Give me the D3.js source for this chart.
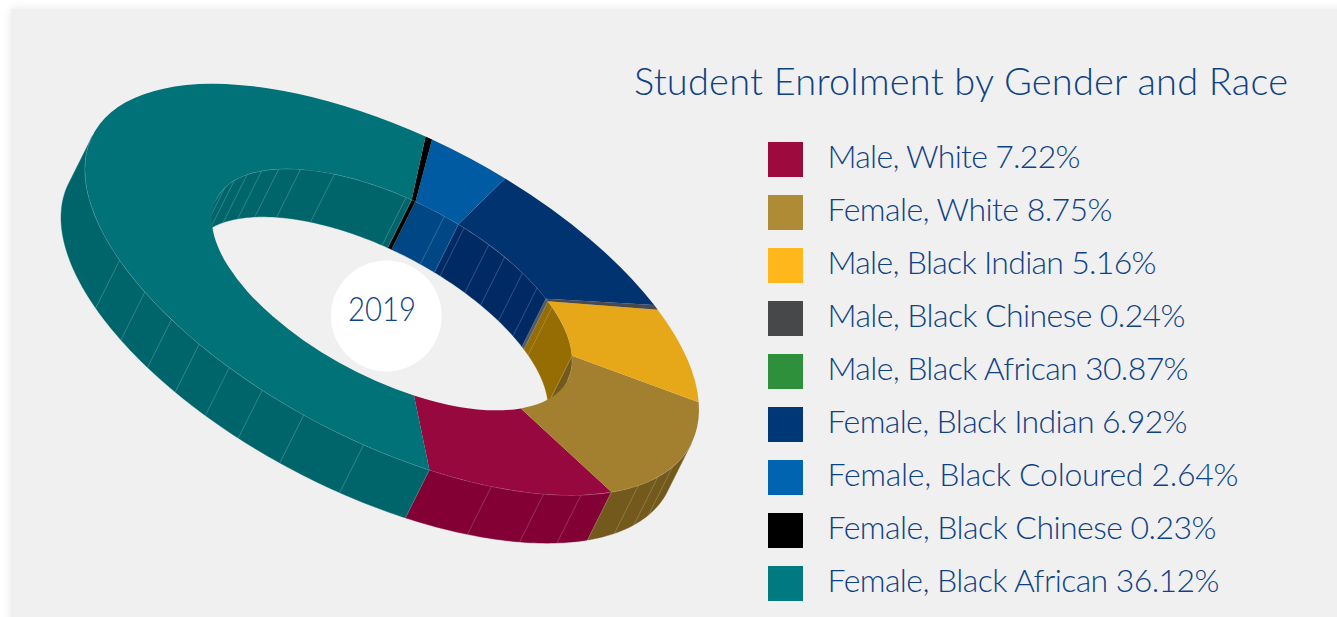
<!DOCTYPE html>
<html>
<head>
<meta charset="utf-8">
<title>Student Enrolment by Gender and Race</title>
<script src="https://cdn.jsdelivr.net/npm/d3@7/dist/d3.min.js"></script>
<style>
  html, body { margin: 0; padding: 0; background: #fff; overflow: hidden; }
  #stage { position: relative; width: 1337px; height: 617px; overflow: hidden; }
  #panel { position: absolute; left: 11px; top: 9px; width: 1400px; height: 700px;
           background: #f0f0f0; box-shadow: 0 0 9px rgba(0,0,0,.10); }
  svg { position: absolute; left: 0; top: 0; }
  text { font-family: Lato, "Open Sans", sans-serif; font-weight: 300; fill: #0e4286; }
</style>
</head>
<body>
<div id="stage"><div id="panel"></div><svg id="chart" width="1337" height="617"></svg></div>
<script>
const chartTitle = "Student Enrolment by Gender and Race";
const centreLabel = "2019";

const categories = ["Male, White", "Female, White", "Male, Black Indian", "Male, Black Chinese",
  "Male, Black African", "Female, Black Indian", "Female, Black Coloured", "Female, Black Chinese",
  "Female, Black African"];
const shares = [7.22, 8.75, 5.16, 0.24, 30.87, 6.92, 2.64, 0.23, 36.12];
const shareLabels = ["7.22%", "8.75%", "5.16%", "0.24%", "30.87%", "6.92%", "2.64%", "0.23%", "36.12%"];

// Key swatches, lit top faces and shaded walls. A null face means the group has a key entry only.
const keyColors  = ["#9d0b3e", "#b08b35", "#ffb71b", "#47484a", "#2f903c", "#003777", "#0064b0", "#000000", "#007a80"];
const faceColors = ["#96083e", "#a38030", "#e6a819", "#4a4a4c", null, "#003370", "#005ba2", "#000000", "#007278"];
const wallColors = ["#820034", "#73591c", "#966d02", "#5a5a5c", null, "#002a63", "#004785", "#000000", "#00656b"];

// Mesh seams on the walls, in degrees round the ring.
const outerSeams = [152.5, 143.6, 135.9, 128.9, 122, 115, 106.7, 95.3, 71.1, 60.4, 52, 36.6, 30, 24];
const innerSeams = [-158, -151, -143.5, -136.3, -128.9, -120.5, -108.6, -85.5, -73.1, -66.4, -57.5, -51.3, -43.6, -36.4, -27.3];

// Set widths of the key lines and title, so the lines end evenly whatever the face.
const keyTextWidths = [253, 285, 329, 358, 361, 360, 411, 389, 392];
const titleWidth = 654;
const centreLabelWidth = 68;

// Ring geometry: a unit circle sheared onto the page, then pushed along the extrusion vector.
const centre = [392, 289.5];
const shear = [307, 120, 167];
const holeRatio = 0.587;
const extrude = [-24, 48];
const firstBoundary = 83;
const arcRadius = 100;

const svg = d3.select("#chart");
const rad = d3.scaleLinear().domain([0, 360]).range([0, 2 * Math.PI]);

function project(deg, radius, depth) {
  const u = radius * Math.cos(rad(deg)), v = radius * Math.sin(rad(deg));
  return [centre[0] + shear[0] * u + extrude[0] * depth,
          centre[1] + shear[1] * u + shear[2] * v + extrude[1] * depth];
}

const ringRows = categories.map((name, i) => ({ name, value: shares[i], face: faceColors[i], wall: wallColors[i] }))
  .filter(d => d.face);

const pie = d3.pie().sort(null).value(d => d.value)
  .startAngle(rad(firstBoundary + 90)).endAngle(rad(firstBoundary + 90 - 360));
const slices = pie(ringRows).map(s => ({
  ...s,
  from: (s.endAngle * 180 / Math.PI) - 90,
  to: (s.startAngle * 180 / Math.PI) - 90
}));

// Direction of the extrusion in circle coordinates decides which walls face the viewer.
const ou = extrude[0] / shear[0];
const ov = (extrude[1] - shear[1] * ou) / shear[2];
const facing = Math.atan2(ov, ou) * 180 / Math.PI;

function visibleParts(from, to, mid) {
  const parts = [];
  for (const turn of [-720, -360, 0, 360, 720]) {
    const a = Math.max(from, mid - 90 + turn), b = Math.min(to, mid + 90 + turn);
    if (b > a) parts.push([a, b]);
  }
  return parts;
}

const line = d3.line();

function wallPath(a, b, radius) {
  const steps = Math.max(1, Math.ceil(b - a));
  const top = d3.range(steps + 1).map(i => project(a + (b - a) * i / steps, radius, 0));
  const low = top.map((_, i) => project(a + (b - a) * i / steps, radius, 1)).reverse();
  return line(top.concat(low)) + "Z";
}
function edgePath(a, b, radius) {
  const steps = Math.max(1, Math.ceil(b - a));
  return line(d3.range(steps + 1).map(i => project(a + (b - a) * i / steps, radius, 0)));
}

function drawWalls(group, radius, mid, seams) {
  slices.forEach(s => {
    visibleParts(s.from, s.to, mid).forEach(([a, b]) => {
      group.append("path").attr("d", wallPath(a, b, radius))
        .attr("fill", s.data.wall).attr("stroke", s.data.wall).attr("stroke-width", 0.4);
      group.append("path").attr("d", edgePath(a, b, radius)).attr("fill", "none")
        .attr("stroke", "#ffffff").attr("stroke-opacity", 0.4).attr("stroke-width", 0.7);
    });
  });
  seams.forEach(deg => {
    const inView = Math.cos(rad(deg - mid)) > 0;
    if (!inView) return;
    group.append("path").attr("d", line([project(deg, radius, 0), project(deg, radius, 1)]))
      .attr("stroke", "#ffffff").attr("stroke-opacity", 0.28).attr("stroke-width", 0.7);
  });
  // The wall pieces at each slice boundary get their own seam.
  slices.forEach(s => {
    if (Math.cos(rad(s.to - mid)) > 0) {
      group.append("path").attr("d", line([project(s.to, radius, 0), project(s.to, radius, 1)]))
        .attr("stroke", "#ffffff").attr("stroke-opacity", 0.25).attr("stroke-width", 0.7);
    }
  });
}

drawWalls(svg.append("g").attr("class", "outer-walls"), 1, facing, outerSeams);
drawWalls(svg.append("g").attr("class", "inner-walls"), holeRatio, facing + 180, innerSeams);

// Top face of the ring.
const arc = d3.arc().innerRadius(arcRadius * holeRatio).outerRadius(arcRadius);
svg.append("g")
  .attr("transform", `matrix(${shear[0] / arcRadius},${shear[1] / arcRadius},0,${shear[2] / arcRadius},${centre[0]},${centre[1]})`)
  .selectAll("path").data(slices).join("path")
  .attr("d", d => arc({ startAngle: d.startAngle, endAngle: d.endAngle }))
  .attr("fill", d => d.data.face);

// Year badge.
svg.append("circle").attr("cx", 386.3).attr("cy", 316).attr("r", 55.4).attr("fill", "#ffffff");
svg.append("text").attr("x", 348).attr("y", 321).attr("font-size", 33)
  .attr("textLength", centreLabelWidth).attr("lengthAdjust", "spacingAndGlyphs").text(centreLabel);

// Title and key.
svg.append("text").attr("x", 634).attr("y", 95).attr("font-size", 38)
  .attr("textLength", titleWidth).attr("lengthAdjust", "spacing").text(chartTitle);

const key = d3.scaleBand().domain(categories).range([142, 142 + 53 * categories.length]);
const rows = svg.append("g").selectAll("g").data(categories).join("g")
  .attr("transform", d => `translate(0,${key(d)})`);
rows.append("rect").attr("x", 768).attr("width", 35).attr("height", 35)
  .attr("fill", (d, i) => keyColors[i]);
rows.append("text").attr("x", 827.5).attr("y", 26.4).attr("font-size", 32)
  .attr("textLength", (d, i) => keyTextWidths[i]).attr("lengthAdjust", "spacing")
  .text((d, i) => `${d} ${shareLabels[i]}`);
</script>
</body>
</html>
